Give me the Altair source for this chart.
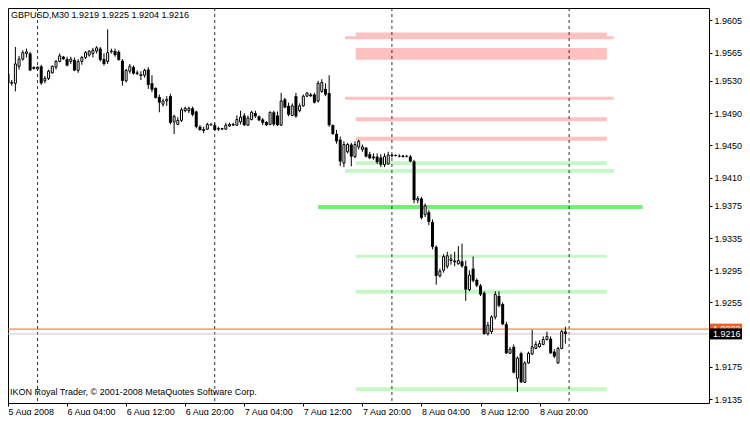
import altair as alt
import pandas as pd

# ---------------- data ----------------
title_text = "GBPUSD,M30  1.9219 1.9225 1.9204 1.9216"
footer_text = "IKON Royal Trader, \u00a9 2001-2008 MetaQuotes Software Corp."

# M30 bars, bar 0 = 5 Aug 2008 20:00
opens = [1.9539, 1.9527, 1.9527, 1.9548, 1.9557, 1.9564, 1.9564, 1.9547, 1.9545, 1.9548,
         1.9530, 1.9533, 1.9540, 1.9547, 1.9554, 1.9560, 1.9557, 1.9554, 1.9556, 1.9543,
         1.9554, 1.9559, 1.9562, 1.9564, 1.9567, 1.9570, 1.9557, 1.9554, 1.9566, 1.9567,
         1.9566, 1.9555, 1.9530, 1.9542, 1.9547, 1.9539, 1.9538, 1.9537, 1.9544, 1.9527,
         1.9521, 1.9510, 1.9501, 1.9505, 1.9511, 1.9479, 1.9476, 1.9481, 1.9493, 1.9493,
         1.9496, 1.9492, 1.9473, 1.9470, 1.9470, 1.9476, 1.9475, 1.9470, 1.9470, 1.9470,
         1.9474, 1.9475, 1.9475, 1.9479, 1.9487, 1.9475, 1.9482, 1.9490, 1.9486, 1.9482,
         1.9479, 1.9476, 1.9491, 1.9487, 1.9475, 1.9507, 1.9499, 1.9487, 1.9511, 1.9493,
         1.9499, 1.9511, 1.9513, 1.9513, 1.9505, 1.9517, 1.9520, 1.9515, 1.9475, 1.9464,
         1.9457, 1.9428, 1.9442, 1.9451, 1.9436, 1.9448, 1.9445, 1.9447, 1.9439, 1.9436,
         1.9436, 1.9435, 1.9426, 1.9427, 1.9437, 1.9438, 1.9437, 1.9436, 1.9437, 1.9436,
         1.9430, 1.9382, 1.9384, 1.9364, 1.9367, 1.9355, 1.9324, 1.9288, 1.9295, 1.9300,
         1.9307, 1.9307, 1.9303, 1.9306, 1.9300, 1.9271, 1.9297, 1.9283, 1.9276, 1.9267,
         1.9216, 1.9219, 1.9237, 1.9263, 1.9253, 1.9228, 1.9192, 1.9200, 1.9161, 1.9192,
         1.9156, 1.9180, 1.9191, 1.9198, 1.9200, 1.9203, 1.9209, 1.9210, 1.9194, 1.9180,
         1.9198, 1.9219]
highs = [1.9542, 1.9531, 1.9572, 1.9561, 1.9568, 1.9570, 1.9566, 1.9548, 1.9548, 1.9550,
         1.9536, 1.9544, 1.9549, 1.9556, 1.9564, 1.9561, 1.9560, 1.9560, 1.9559, 1.9557,
         1.9561, 1.9567, 1.9568, 1.9571, 1.9573, 1.9572, 1.9564, 1.9594, 1.9570, 1.9570,
         1.9568, 1.9557, 1.9545, 1.9551, 1.9549, 1.9543, 1.9542, 1.9545, 1.9547, 1.9537,
         1.9522, 1.9513, 1.9508, 1.9511, 1.9514, 1.9488, 1.9485, 1.9497, 1.9498, 1.9498,
         1.9498, 1.9493, 1.9475, 1.9473, 1.9478, 1.9478, 1.9478, 1.9473, 1.9471, 1.9478,
         1.9478, 1.9478, 1.9487, 1.9493, 1.9490, 1.9487, 1.9493, 1.9493, 1.9487, 1.9484,
         1.9480, 1.9492, 1.9493, 1.9492, 1.9515, 1.9509, 1.9503, 1.9502, 1.9515, 1.9502,
         1.9513, 1.9516, 1.9515, 1.9515, 1.9530, 1.9532, 1.9527, 1.9537, 1.9476, 1.9469,
         1.9461, 1.9455, 1.9453, 1.9453, 1.9455, 1.9457, 1.9451, 1.9448, 1.9442, 1.9440,
         1.9440, 1.9439, 1.9440, 1.9442, 1.9439, 1.9439, 1.9439, 1.9438, 1.9438, 1.9438,
         1.9432, 1.9387, 1.9386, 1.9378, 1.9370, 1.9358, 1.9326, 1.9297, 1.9315, 1.9318,
         1.9315, 1.9318, 1.9325, 1.9328, 1.9307, 1.9295, 1.9312, 1.9285, 1.9278, 1.9269,
         1.9231, 1.9239, 1.9269, 1.9269, 1.9255, 1.9231, 1.9200, 1.9203, 1.9188, 1.9194,
         1.9182, 1.9194, 1.9221, 1.9207, 1.9208, 1.9213, 1.9219, 1.9213, 1.9197, 1.9200,
         1.9221, 1.9225]
lows = [1.9522, 1.9524, 1.9517, 1.9544, 1.9555, 1.9559, 1.9542, 1.9544, 1.9543, 1.9525,
        1.9527, 1.9531, 1.9539, 1.9544, 1.9553, 1.9556, 1.9548, 1.9551, 1.9542, 1.9540,
        1.9550, 1.9557, 1.9560, 1.9559, 1.9564, 1.9554, 1.9549, 1.9551, 1.9564, 1.9560,
        1.9555, 1.9524, 1.9528, 1.9539, 1.9538, 1.9537, 1.9531, 1.9534, 1.9520, 1.9516,
        1.9508, 1.9491, 1.9498, 1.9499, 1.9476, 1.9464, 1.9475, 1.9479, 1.9491, 1.9490,
        1.9486, 1.9471, 1.9468, 1.9465, 1.9469, 1.9474, 1.9468, 1.9468, 1.9469, 1.9469,
        1.9473, 1.9474, 1.9474, 1.9476, 1.9474, 1.9474, 1.9481, 1.9484, 1.9480, 1.9475,
        1.9474, 1.9475, 1.9474, 1.9474, 1.9474, 1.9496, 1.9486, 1.9486, 1.9484, 1.9491,
        1.9498, 1.9510, 1.9510, 1.9502, 1.9503, 1.9515, 1.9511, 1.9473, 1.9463, 1.9452,
        1.9424, 1.9423, 1.9440, 1.9424, 1.9434, 1.9445, 1.9442, 1.9435, 1.9433, 1.9432,
        1.9427, 1.9423, 1.9423, 1.9426, 1.9435, 1.9436, 1.9435, 1.9435, 1.9435, 1.9429,
        1.9378, 1.9378, 1.9358, 1.9361, 1.9351, 1.9321, 1.9277, 1.9286, 1.9292, 1.9297,
        1.9302, 1.9300, 1.9302, 1.9298, 1.9257, 1.9269, 1.9280, 1.9274, 1.9263, 1.9215,
        1.9214, 1.9216, 1.9234, 1.9249, 1.9227, 1.9191, 1.9191, 1.9167, 1.9144, 1.9155,
        1.9155, 1.9179, 1.9190, 1.9197, 1.9199, 1.9202, 1.9208, 1.9191, 1.9186, 1.9179,
        1.9197, 1.9204]
closes = [1.9527, 1.9528, 1.9551, 1.9557, 1.9565, 1.9566, 1.9543, 1.9545, 1.9547, 1.9527,
          1.9533, 1.9542, 1.9548, 1.9554, 1.9561, 1.9557, 1.9549, 1.9557, 1.9543, 1.9554,
          1.9559, 1.9565, 1.9567, 1.9568, 1.9571, 1.9556, 1.9551, 1.9565, 1.9567, 1.9562,
          1.9556, 1.9530, 1.9543, 1.9548, 1.9539, 1.9540, 1.9536, 1.9543, 1.9525, 1.9519,
          1.9509, 1.9503, 1.9505, 1.9507, 1.9478, 1.9486, 1.9481, 1.9494, 1.9496, 1.9496,
          1.9488, 1.9473, 1.9469, 1.9468, 1.9476, 1.9475, 1.9469, 1.9471, 1.9471, 1.9475,
          1.9476, 1.9476, 1.9482, 1.9485, 1.9475, 1.9484, 1.9491, 1.9486, 1.9481, 1.9478,
          1.9475, 1.9491, 1.9476, 1.9475, 1.9505, 1.9497, 1.9488, 1.9499, 1.9486, 1.9499,
          1.9511, 1.9515, 1.9511, 1.9503, 1.9527, 1.9528, 1.9513, 1.9475, 1.9464, 1.9455,
          1.9430, 1.9451, 1.9451, 1.9436, 1.9451, 1.9455, 1.9448, 1.9436, 1.9434, 1.9434,
          1.9429, 1.9426, 1.9436, 1.9438, 1.9438, 1.9437, 1.9436, 1.9437, 1.9436, 1.9430,
          1.9382, 1.9384, 1.9360, 1.9375, 1.9355, 1.9324, 1.9288, 1.9294, 1.9312, 1.9313,
          1.9309, 1.9305, 1.9307, 1.9300, 1.9271, 1.9289, 1.9282, 1.9276, 1.9265, 1.9216,
          1.9227, 1.9237, 1.9265, 1.9251, 1.9228, 1.9192, 1.9197, 1.9168, 1.9186, 1.9156,
          1.9180, 1.9192, 1.9200, 1.9203, 1.9204, 1.9209, 1.9213, 1.9192, 1.9188, 1.9198,
          1.9219, 1.9216]

# supply / demand zones (bar index extents, price extents)
zone_start = [91.3, 94.2, 94.2, 91.3, 94.2, 94.2, 94.2, 91.3, 84.0, 94.2, 94.2, 94.2]
zone_end = [164.1, 162.2, 162.2, 164.1, 162.2, 162.2, 162.2, 164.1, 171.9, 162.2, 162.2, 162.2]
zone_top = [1.95853, 1.95901, 1.95708, 1.95103, 1.94848, 1.94606,
            1.94304, 1.94207, 1.93760, 1.93142, 1.92707, 1.91497]
zone_bottom = [1.95817, 1.95829, 1.95562, 1.95066, 1.94800, 1.94558,
               1.94256, 1.94159, 1.93711, 1.93106, 1.92658, 1.91448]
zone_kind = ["resistance"] * 6 + ["support", "support", "strong support",
                                  "support", "support", "support"]

day_separators = [8, 56, 104, 152]          # bar index of midnight
x_tick_bars = [0, 16, 32, 48, 64, 80, 96, 112, 128, 144]
x_tick_labels = ["5 Aug 2008", "6 Aug 04:00", "6 Aug 12:00", "6 Aug 20:00",
                 "7 Aug 04:00", "7 Aug 12:00", "7 Aug 20:00", "8 Aug 04:00",
                 "8 Aug 12:00", "8 Aug 20:00"]
y_ticks = [1.9605, 1.9565, 1.9530, 1.9490, 1.9450, 1.9410, 1.9375,
           1.9335, 1.9295, 1.9255, 1.9175, 1.9135]
bid_price = 1.9216
ask_price = 1.9222

# ---------------- chart ----------------
W, H = 701, 395
FONT = "Liberation Sans"
FS = 9

bars = pd.DataFrame({"bar": list(range(len(opens))), "open": opens, "high": highs,
                     "low": lows, "close": closes})
zones = pd.DataFrame({"x1": zone_start, "x2": zone_end, "top": zone_top,
                      "bottom": zone_bottom, "kind": zone_kind})
seps = pd.DataFrame({"bar": day_separators})
ask_df = pd.DataFrame({"price": [ask_price]})
bid_df = pd.DataFrame({"price": [bid_price]})

label_expr = ""
for b, t in zip(x_tick_bars, x_tick_labels):
    label_expr += f"datum.value == {b} ? '{t}' : "
label_expr += "''"

xs = alt.Scale(domain=[0, 189.9], nice=False, zero=False, padding=0)
ys = alt.Scale(domain=[1.91303, 1.96204], nice=False, zero=False, padding=0)
xaxis = alt.Axis(values=x_tick_bars, labelExpr=label_expr, title=None, grid=False,
                 domain=False, tickSize=3, tickColor="black", labelAlign="left",
                 labelPadding=1, labelFont=FONT, labelFontSize=FS, labelColor="black",
                 labelFlush=False, labelOverlap=False, labelBound=False)
yaxis = alt.Axis(values=y_ticks, format=".4f", orient="right", title=None, grid=False,
                 domain=False, tickSize=3, tickColor="black", labelPadding=2,
                 labelFont=FONT, labelFontSize=FS, labelColor="black",
                 labelOverlap=False, labelFlush=False, labelBaseline="middle")


def X(field):
    return alt.X(field, type="quantitative", scale=xs, axis=xaxis)


def Y(field):
    return alt.Y(field, type="quantitative", scale=ys, axis=yaxis)


zone_layer = alt.Chart(zones).mark_rect().encode(
    x=X("x1"), x2="x2", y=Y("top"), y2="bottom",
    color=alt.Color("kind:N", legend=None,
                    scale=alt.Scale(domain=["resistance", "support", "strong support"],
                                    range=["#ffc0c0", "#c4f8c4", "#78ec78"])))

sep_layer = alt.Chart(seps).mark_rule(color="#333333", strokeWidth=1,
                                      strokeDash=[3, 3]).encode(
    x=X("bar"), y=alt.value(0), y2=alt.value(H))

ask_line = alt.Chart(ask_df).mark_rule(strokeWidth=1, color="#f0602a").encode(
    y=Y("price"), x=alt.value(0), x2=alt.value(W))
bid_line = alt.Chart(bid_df).mark_rule(strokeWidth=1, color="#c8c8c8").encode(
    y=Y("price"), x=alt.value(0), x2=alt.value(W))

wick_layer = alt.Chart(bars).mark_rule(color="black", strokeWidth=1).encode(
    x=X("bar"), y=Y("low"), y2="high")

up_layer = alt.Chart(bars).transform_filter("datum.close >= datum.open").mark_bar(
    size=2, fill="white", stroke="black", strokeWidth=1).encode(
    x=X("bar"), y=Y("open"), y2="close")

down_layer = alt.Chart(bars).transform_filter("datum.close < datum.open").mark_bar(
    size=3, color="black").encode(
    x=X("bar"), y=Y("open"), y2="close")

ask_box = alt.Chart(ask_df).mark_tick(size=32, thickness=11, color="#f0602a",
                                      opacity=1).encode(
    y=Y("price"), x=alt.value(W + 17))
ask_txt = alt.Chart(ask_df).mark_text(
    align="left", baseline="middle", font=FONT, fontSize=FS, color="white").encode(
    y=Y("price"), x=alt.value(W + 4), text=alt.Text("price:Q", format=".4f"))
bid_box = alt.Chart(bid_df).mark_tick(size=32, thickness=11, color="black",
                                      opacity=1).encode(
    y=Y("price"), x=alt.value(W + 17))
bid_txt = alt.Chart(bid_df).mark_text(
    align="left", baseline="middle", font=FONT, fontSize=FS, color="white").encode(
    y=Y("price"), x=alt.value(W + 4), text=alt.Text("price:Q", format=".4f"))

title_layer = alt.Chart(pd.DataFrame({"t": [title_text]})).mark_text(
    align="left", baseline="middle", font=FONT, fontSize=FS, color="black").encode(
    x=alt.value(3), y=alt.value(7), text="t:N")
footer_layer = alt.Chart(pd.DataFrame({"t": [footer_text]})).mark_text(
    align="left", baseline="middle", font=FONT, fontSize=FS, color="black").encode(
    x=alt.value(2), y=alt.value(384), text="t:N")

chart = alt.layer(
    zone_layer, sep_layer, ask_line, bid_line, wick_layer, up_layer, down_layer,
    ask_box, ask_txt, bid_box, bid_txt, title_layer, footer_layer
).resolve_scale(color="independent").properties(
    width=W, height=H,
    autosize=alt.AutoSizeParams(type="none"),
    padding={"left": 0, "top": 0, "right": 33, "bottom": 12},
    background="white",
).configure_view(stroke="black", strokeWidth=1)

chart.save("out.html", embed_options={"renderer": "svg", "actions": False})
